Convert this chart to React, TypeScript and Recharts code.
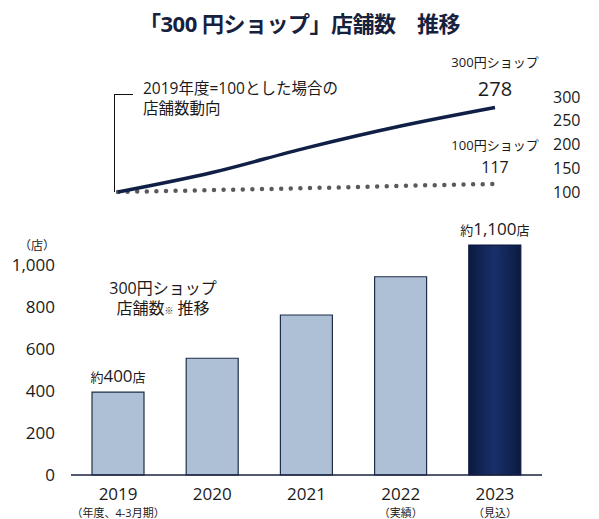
import React from "react";
import {
  BarChart, Bar, LineChart, Line, XAxis, YAxis, LabelList, Cell,
} from "recharts";

const YEARS = ["2019", "2020", "2021", "2022", "2023"];
const YEAR_NOTES = ["（年度、4-3月期）", "", "", "（実績）", "（見込）"];
const STORE_COUNTS = [395, 556, 762, 944, 1095];
const BAR_LABELS = ["約|400|店", "", "", "", "約|1,100|店"];
const INDEX_300 = [100, 141, 193, 239, 278];
const INDEX_100 = [100, 104, 108, 113, 117];
const BAR_TICKS = [0, 200, 400, 600, 800, 1000];
const INDEX_TICKS = [100, 150, 200, 250, 300];

const FONT = "'Open Sans', 'Noto Sans CJK JP', sans-serif";
const NAVY = "#0f1f45";
const TEXT = "#1a1a1a";

const barData = YEARS.map((y, i) => ({
  year: y,
  note: YEAR_NOTES[i],
  stores: STORE_COUNTS[i],
  label: BAR_LABELS[i],
}));

const lineData = YEARS.map((y, i) => ({
  year: y,
  s300: INDEX_300[i],
  s100: INDEX_100[i],
}));

const YearTick = (props: any) => {
  const { x, y, payload, index } = props;
  const note = YEAR_NOTES[index];
  return (
    <g>
      <text x={x} y={y + 17} textAnchor="middle" fontSize={17} fill={TEXT} fontFamily={FONT}>
        {payload.value}
      </text>
      {note ? (
        <text x={x} y={y + 34} textAnchor="middle" fontSize={11} fill={TEXT} fontFamily={FONT}>
          {note}
        </text>
      ) : null}
    </g>
  );
};

const BarTopLabel = (props: any) => {
  const { x, y, width, value } = props;
  if (!value) return null;
  const [pre, num, post] = String(value).split("|");
  return (
    <text x={x + width / 2} y={y - 10} textAnchor="middle" fill={TEXT} fontFamily={FONT}>
      <tspan fontSize={13}>{pre}</tspan>
      <tspan fontSize={17}>{num}</tspan>
      <tspan fontSize={13}>{post}</tspan>
    </text>
  );
};

const endLabel = (name: string, nameDy: number, numSize: number) => (props: any) => {
  const { x, y, value, index } = props;
  if (index !== YEARS.length - 1) return null;
  return (
    <g fontFamily={FONT} fill={TEXT}>
      <text x={x} y={y + nameDy} textAnchor="middle" fontSize={13}>{name}</text>
      <text x={x} y={y - 11} textAnchor="middle" fontSize={numSize}>{value}</text>
    </g>
  );
};

export default function App() {
  return (
    <div style={{ position: "absolute", left: 0, top: 0, width: 599, height: 519, background: "#fff", fontFamily: FONT, overflow: "hidden" }}>
      <div style={{ position: "absolute", left: 0, width: 599, top: 6, textAlign: "center", fontSize: 22, fontWeight: 700, color: "#16213e", letterSpacing: -0.5 }}>
        「300 円ショップ」店舗数　推移
      </div>

      {/* index line chart */}
      <div style={{ position: "absolute", left: 0, top: 0 }}>
        <LineChart width={599} height={519} data={lineData} margin={{ top: 97, right: 0, bottom: 327, left: 71 }}>
          <XAxis dataKey="year" hide padding={{ left: 47, right: 47 }} />
          <YAxis
            orientation="right"
            width={57}
            domain={[100, 300]}
            ticks={INDEX_TICKS}
            axisLine={false}
            tickLine={false}
            tickSize={0}
            tickMargin={11}
            tick={{ fill: TEXT, fontSize: 16, fontFamily: FONT, textAnchor: "start" }}
          />
          <Line dataKey="s100" type="linear" stroke="#5a5a5e" strokeWidth={4.5} strokeDasharray="0 9.6" strokeLinecap="round" dot={false} isAnimationActive={false}>
            <LabelList dataKey="s100" content={endLabel("100円ショップ", -34, 16)} />
          </Line>
          <Line dataKey="s300" type="monotone" stroke={NAVY} strokeWidth={3.5} dot={false} isAnimationActive={false}>
            <LabelList dataKey="s300" content={endLabel("300円ショップ", -40, 20)} />
          </Line>
        </LineChart>
      </div>

      {/* bracket + note */}
      <div style={{ position: "absolute", left: 114, top: 94, width: 18, height: 97, borderLeft: "1.5px solid #111", borderTop: "1.5px solid #111" }} />
      <div style={{ position: "absolute", left: 143, top: 78, fontSize: 15.5, lineHeight: "20px", color: TEXT }}>
        2019年度=100とした場合の<br />店舗数動向
      </div>

      {/* store count bar chart */}
      <div style={{ position: "absolute", left: 0, top: 0 }}>
        <BarChart width={599} height={519} data={barData} margin={{ top: 223, right: 57, bottom: 0, left: 0 }} barSize={52}>
          <defs>
            <linearGradient id="darkBar" x1="0" y1="0" x2="1" y2="0">
              <stop offset="0%" stopColor="#0b1a40" />
              <stop offset="50%" stopColor="#18306a" />
              <stop offset="100%" stopColor="#0b1a40" />
            </linearGradient>
          </defs>
          <XAxis
            dataKey="year"
            axisLine={{ stroke: "#1a2340", strokeWidth: 1.5 }}
            tickLine={false}
            tick={<YearTick />}
            height={44}
            interval={0}
          />
          <YAxis
            width={71}
            domain={[0, 1200]}
            ticks={BAR_TICKS}
            axisLine={false}
            tickLine={false}
            tickSize={0}
            tickMargin={16}
            tickFormatter={(v: number) => v.toLocaleString("en-US")}
            tick={{ fill: TEXT, fontSize: 17, fontFamily: FONT }}
          />
          <Bar dataKey="stores" stroke="#1f2d4a" strokeWidth={1.2} isAnimationActive={false}>
            {barData.map((d, i) => (
              <Cell key={d.year} fill={i === YEARS.length - 1 ? "url(#darkBar)" : "#adc0d5"} stroke={i === YEARS.length - 1 ? "#0b1a40" : "#1f2d4a"} />
            ))}
            <LabelList dataKey="label" content={<BarTopLabel />} />
          </Bar>
        </BarChart>
      </div>

      <div style={{ position: "absolute", left: 19, top: 236, fontSize: 12, color: TEXT }}>（店）</div>
      <div style={{ position: "absolute", left: 103, top: 279, width: 120, textAlign: "center", fontSize: 16, lineHeight: "19px", color: TEXT }}>
        300円ショップ
      </div>
      <div style={{ position: "absolute", left: 103, top: 299, width: 120, textAlign: "center", fontSize: 16, lineHeight: "19px", color: TEXT }}>
        店舗数<span style={{ fontSize: 9 }}>※</span> 推移
      </div>
    </div>
  );
}
